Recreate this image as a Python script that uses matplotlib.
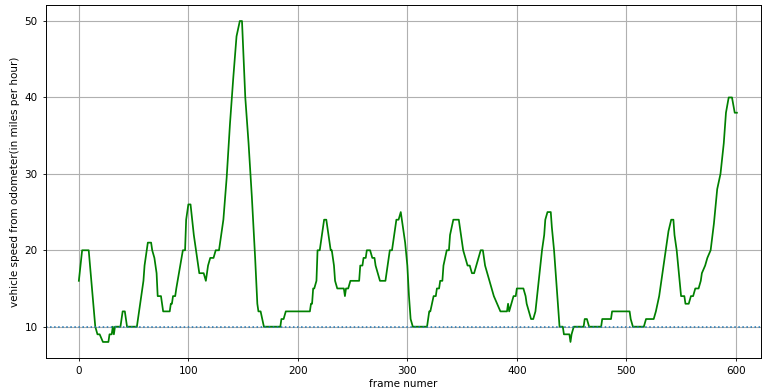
import matplotlib
matplotlib.use("Agg")
import matplotlib.pyplot as plt

frames = [0, 3, 9, 15, 17, 19, 22, 27, 28, 30, 31, 32, 33, 38, 40, 42, 44, 53, 55, 57,
          59, 60, 62, 63, 66, 67, 69, 71, 72, 75, 77, 83, 84, 85, 86, 88, 89, 95, 97, 98,
          100, 102, 105, 110, 114, 116, 118, 120, 123, 125, 128, 129, 132, 135, 138, 141, 144, 147, 149, 152,
          155, 158, 161, 163, 164, 166, 169, 184, 185, 187, 189, 211, 212, 213, 214, 215, 217, 218, 220, 222,
          224, 226, 228, 230, 231, 233, 234, 236, 242, 243, 244, 246, 248, 256, 257, 259, 260, 262, 263, 266,
          268, 270, 271, 273, 275, 280, 282, 284, 286, 288, 290, 292, 294, 295, 298, 300, 301.5, 303, 305, 318,
          320, 321, 324, 326, 327, 329, 330, 332, 333, 336, 338, 339, 342, 347, 349, 351, 353, 355, 357, 359,
          361, 363, 365, 367, 369, 371, 373, 375, 377, 379, 382, 385, 391, 392, 393, 395, 397, 399, 400, 406,
          408, 409, 411, 413, 415, 417, 418.5, 420, 421.5, 423, 425, 426, 428, 431, 432, 434, 437, 439, 442, 443,
          448, 449, 450, 452, 461, 462, 464, 466, 477, 478, 486, 487, 503, 504, 506, 516, 518, 525, 527, 528.5,
          530, 533, 536, 538.5, 541, 543, 544, 546, 548, 550, 553, 554, 557, 559, 561, 563, 566, 568, 569, 572,
          574, 577, 580, 583, 586, 589, 591, 593.5, 596.5, 599, 601]
speed = [16, 20, 20, 10, 9, 9, 8, 8, 9, 9, 10, 9, 10, 10, 12, 12, 10, 10, 12, 14,
         16, 18, 20, 21, 21, 20, 19, 17, 14, 14, 12, 12, 13, 13, 14, 14, 15, 20, 20, 24,
         26, 26, 22, 17, 17, 16, 18, 19, 19, 20, 20, 21, 24, 29.5, 36.5, 42.5, 48, 50, 50, 40,
         34, 27, 19, 13, 12, 12, 10, 10, 11, 11, 12, 12, 13, 13, 15, 15, 16, 20, 20, 22,
         24, 24, 22, 20, 20, 18, 16, 15, 15, 14, 15, 15, 16, 16, 18, 18, 19, 19, 20, 20,
         19, 19, 18, 17, 16, 16, 18, 20, 20, 22, 24, 24, 25, 24, 21, 18, 14, 11, 10, 10,
         12, 12, 14, 14, 15, 15, 16, 16, 18, 20, 20, 22, 24, 24, 22, 20, 19, 18, 18, 17,
         17, 18, 19, 20, 20, 18, 17, 16, 15, 14, 13, 12, 12, 13, 12, 13, 14, 14, 15, 15,
         14, 13, 12, 11, 11, 12, 14, 16, 18, 20, 22, 24, 25, 25, 23, 20, 14, 10, 10, 9,
         9, 8, 9, 10, 10, 11, 11, 10, 10, 11, 11, 12, 12, 11, 10, 10, 11, 11, 12, 13,
         14, 17, 20, 22.5, 24, 24, 22, 20, 17, 14, 14, 13, 13, 14, 14, 15, 15, 16, 17, 18,
         19, 20, 23.5, 28, 30, 34, 38, 40, 40, 38, 38]

threshold = 10
x_label = "frame numer"
y_label = "vehicle speed from odometer(in miles per hour)"

fig = plt.figure(figsize=(7.62, 3.91), dpi=100)
ax = fig.add_axes([46 / 762, 1 - 358 / 391, (761 - 46) / 762, (358 - 5) / 391])
ax.plot(frames, speed, color="g", linewidth=1.25)
ax.axhline(threshold, color="tab:blue", linestyle=":", linewidth=1.1)
ax.grid(True, color="#b0b0b0", linewidth=0.8)
ax.set_xlim(-30, 623)
ax.set_ylim(5.9, 52.1)
ax.set_xticks([0, 100, 200, 300, 400, 500, 600])
ax.set_yticks([10, 20, 30, 40, 50])
ax.tick_params(labelsize=7.5, length=2.5, width=0.6)
ax.set_xlabel(x_label, fontsize=7.5, labelpad=2)
ax.set_ylabel(y_label, fontsize=7.5, labelpad=3)
for s in ax.spines.values():
    s.set_linewidth(0.7)
fig.savefig("out.png", dpi=100)
